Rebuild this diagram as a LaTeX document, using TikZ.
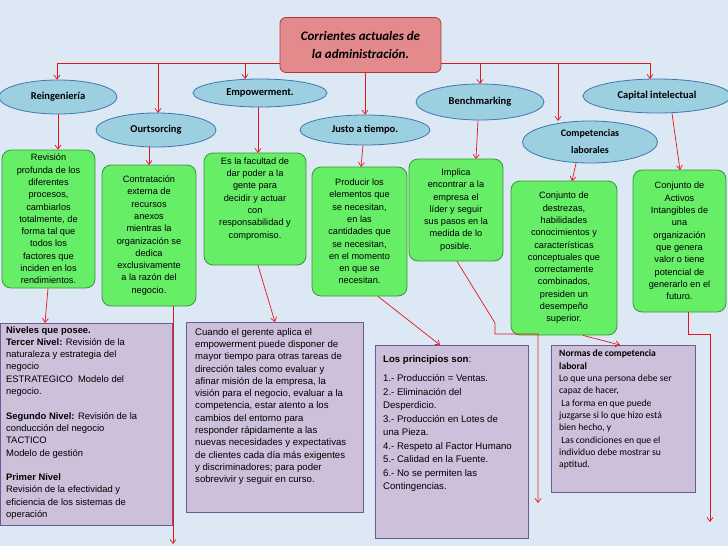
\documentclass[tikz,border=0pt]{standalone}
\usepackage{fontspec}
\setmainfont{Liberation Sans}
\newfontfamily\calfnt{Carlito}
\usetikzlibrary{shapes.geometric,arrows.meta}
\definecolor{bgc}{HTML}{DCE8F4}
\definecolor{ellf}{HTML}{9CCFE0}
\definecolor{elld}{HTML}{3E78B0}
\definecolor{grf}{HTML}{66EE66}
\definecolor{grd}{HTML}{3A963A}
\definecolor{puf}{HTML}{CCC0DA}
\definecolor{pud}{HTML}{6E5A92}
\definecolor{rdf}{HTML}{E38A8C}
\definecolor{rdd}{HTML}{B03A3A}
\definecolor{arr}{HTML}{E8141C}
\tikzset{
 x=1pt,y=-1pt,
 ell/.style={ellipse,draw=elld,fill=ellf,line width=0.8pt,inner sep=0pt,font=\calfnt\bfseries\fontsize{10.5}{14}\selectfont,align=center},
 gbox/.style={rounded corners=9pt,draw=grd,fill=grf,line width=0.8pt,align=center,inner sep=2pt,font=\fontsize{9.2}{12.3}\selectfont},
 pbox/.style={draw=pud,fill=puf,line width=0.8pt,inner sep=0pt,anchor=north west},
 ptext/.style={align=left,inner sep=0pt,anchor=north west,font=\fontsize{9.6}{12.3}\selectfont},
 con/.style={draw=arr,line width=0.7pt,-{Straight Barb[length=4pt,width=6pt]}},
 ln/.style={draw=arr,line width=0.7pt}
}
\newcommand{\gb}[6]{\node[gbox,minimum width=#3-#1,minimum height=#4-#2] (#5) at ({(#1+#3)/2},{(#2+#4)/2}) {#6};}
\begin{document}
\begin{tikzpicture}
\fill[bgc] (0,0) rectangle (728,546);
\useasboundingbox (0,0) rectangle (728,546);
% root
\node[rounded corners=6pt,draw=rdd,fill=rdf,line width=0.8pt,minimum width=161,minimum height=55,align=center,font=\calfnt\bfseries\itshape\fontsize{13}{18}\selectfont] (root) at (360.5,45) {Corrientes actuales de\\la administración.};
% ellipses
\node[ell,minimum width=118,minimum height=34] (reing) at (58,97) {Reingeniería};
\node[ell,minimum width=120,minimum height=34] (ours) at (156,130) {Ourtsorcing};
\node[ell,minimum width=134,minimum height=28] (emp) at (260,93) {Empowerment.};
\node[ell,minimum width=130,minimum height=30] (justo) at (365,130) {Justo a tiempo.};
\node[ell,minimum width=128,minimum height=36] (bench) at (480,102) {Benchmarking};
\node[ell,minimum width=135,minimum height=42,font=\calfnt\bfseries\fontsize{10}{17}\selectfont] (comp) at (590,142) {Competencias\\laborales};
\node[ell,minimum width=148,minimum height=34] (cap) at (657,96) {Capital intelectual};
% top connectors
\coordinate (hl) at (57,63); \coordinate (hr) at (650,63);
\draw[ln] (hl) -- (root.west |- hl);
\draw[ln] (root.east |- hr) -- (hr);
\draw[con] (hl) -- (reing.north -| hl);
\draw[con] (158,63) -- (158,113);
\draw[con] (245,63) -- (245,79);
\draw[con] (480,63) -- (480,84);
\draw[con] (558,63) -- (558,121);
\draw[con] (hr) -- (650,79);
\draw[con] (root.south -| justo) -- (justo.north);
% green boxes
\gb{2}{150}{95}{288}{g1}{Revisión\\profunda de los\\diferentes\\procesos,\\cambiarlos\\totalmente, de\\forma tal que\\todos los\\factores que\\inciden en los\\rendimientos.}
\gb{102}{165}{196}{306}{g2}{Contratación\\externa de\\recursos\\anexos\\mientras la\\organización se\\dedica\\exclusivamente\\a la razón del\\negocio.}
\gb{204}{153}{306}{265}{g3}{Es la facultad de\\dar poder a la\\gente para\\decidir y actuar\\con\\responsabilidad y\\compromiso.\\[10pt]}
\gb{312}{167}{407}{296}{g4}{Producir los\\elementos que\\se necesitan,\\en las\\cantidades que\\se necesitan,\\en el momento\\en que se\\necesitan.}
\gb{409}{159}{503}{261}{g5}{Implica\\encontrar a la\\empresa el\\líder y seguir\\sus pasos en la\\medida de lo\\posible.}
\gb{511}{181}{617}{335}{g6}{Conjunto de\\destrezas,\\habilidades\\conocimientos y\\características\\conceptuales que\\correctamente\\combinados,\\presiden un\\desempeño\\superior.}
\gb{633}{170}{726}{312}{g7}{Conjunto de\\Activos\\Intangibles de\\una\\organización\\que genera\\valor o tiene\\potencial de\\generarlo en el\\futuro.}
\draw[con] (reing.south) -- (g1.north -| reing.south);
\draw[con] (ours.south -| 149,0) -- (149,165);
\draw[con] (emp.south -| 258,0) -- (258,153);
\draw[con] (justo.south -| 363,0) -- (361,167);
\draw[con] (bench.south -| 478,0) -- (476,159);
\draw[con] (comp.south -| 576,0) -- (572,181);
\draw[con] (cap.south -| 672,0) -- (680,170);
% purple boxes
\node[pbox,minimum width=172,minimum height=202] (p1) at (0,323) {};
\node[ptext,font=\fontsize{9.4}{12.3}\selectfont] (t1) at (6,326) {\textbf{Niveles que posee.}\\\textbf{Tercer Nivel:} Revisión de la\\naturaleza y estrategia del\\negocio\\ESTRATEGICO\ \ Modelo del\\negocio.\\[12.3pt]\textbf{Segundo Nivel:} Revisión de la\\conducción del negocio\\TACTICO\\Modelo de gestión\\[12.3pt]\textbf{Primer Nivel}\\Revisión de la efectividad y\\eficiencia de los sistemas de\\operación};
\node[pbox,minimum width=177,minimum height=190] (p2) at (186,322) {};
\node[ptext] (t2) at (195,328) {Cuando el gerente aplica el\\empowerment puede disponer de\\mayor tiempo para otras tareas de\\dirección tales como evaluar y\\afinar misión de la empresa, la\\visión para el negocio, evaluar a la\\competencia, estar atento a los\\cambios del entorno para\\responder rápidamente a las\\nuevas necesidades y expectativas\\de clientes cada día más exigentes\\y discriminadores; para poder\\sobrevivir y seguir en curso.};
\node[pbox,minimum width=153,minimum height=193] (p3) at (375,345) {};
\node[ptext,font=\fontsize{9.6}{13.5}\selectfont] (t3) at (383,355) {\textbf{Los principios son}:\\[6pt]1.- Producción = Ventas.\\2.- Eliminación del\\Desperdicio.\\3.- Producción en Lotes de\\una Pieza.\\4.- Respeto al Factor Humano\\5.- Calidad en la Fuente.\\6.- No se permiten las\\Contingencias.};
\node[pbox,minimum width=144,minimum height=147] (p4) at (551,345) {};
\node[ptext,font=\calfnt\fontsize{9.6}{12.3}\selectfont] (t4) at (559,350) {\textbf{Normas de competencia}\\\textbf{laboral}\\Lo que una persona debe ser\\capaz de hacer,\\\ La forma en que puede\\juzgarse si lo que hizo está\\bien hecho, y\\\ Las condiciones en que el\\individuo debe mostrar su\\aptitud.};
% lower connectors
\draw[con] (g1.south -| 48,0) -- (45,323);
\draw[con] (g2.south -| 173,0) -- (173,544);
\draw[con] (g3.south -| 258,0) -- (275,322);
\draw[con] (g4.south -| 378,0) -- (440,345);
\draw[con] (g5.south -| 457,0) -- (495,323) -- (495,334) -- (538,334) -- (538,503);
\draw[con] (g6.south -| 583,0) -- (620,345);
\draw[con] (g7.south -| 688,0) -- (688,334) -- (710,334) -- (710,522);
\end{tikzpicture}
\end{document}
